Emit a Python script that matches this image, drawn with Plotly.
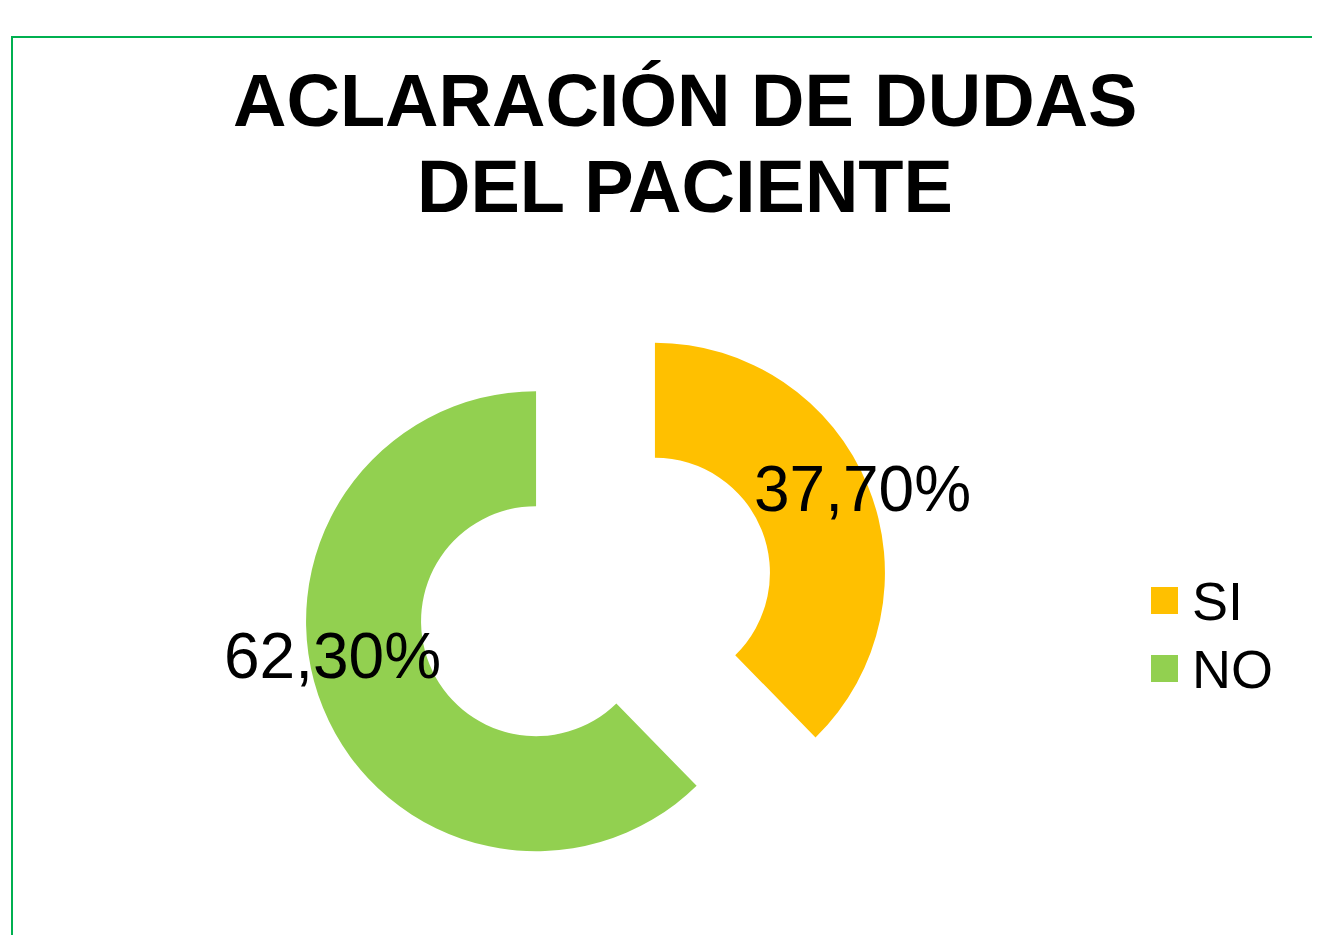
import plotly.graph_objects as go

# page has an 8px body margin, so the figure is shifted by that much
OFF = 8
W, H = 1312, 927

labels = ["SI", "NO"]
values = [37.7, 62.3]
colors = ["#FFC000", "#92D050"]
title_lines = ["ACLARACIÓN DE DUDAS", "DEL PACIENTE"]


def px(x):
    return (x - OFF) / W


def py(y):
    return 1 - (y - OFF) / H


def pct(v):
    return f"{v:.2f}%".replace(".", ",")


# donut centre / size in screen pixels
cx, cy, r_out, pull = 595.5, 597, 230, 0.279
half = r_out * (1 + pull)

fig = go.Figure()

fig.add_trace(
    go.Pie(
        labels=labels,
        values=values,
        marker=dict(colors=colors, line=dict(width=0)),
        hole=0.5,
        pull=[pull, pull],
        sort=False,
        direction="clockwise",
        rotation=0,
        textinfo="none",
        hoverinfo="label+percent",
        showlegend=False,
        domain=dict(x=[px(cx - half), px(cx + half)], y=[py(cy + half), py(cy - half)]),
    )
)

annotations = []
# title, two lines
for text, tx, ty in zip(title_lines, [685, 684.5], [100.5, 186.5]):
    annotations.append(
        dict(
            x=px(tx), y=py(ty), xref="paper", yref="paper",
            text=f"<b>{text}</b>", showarrow=False,
            xanchor="center", yanchor="middle",
            font=dict(family="Liberation Sans, Arial", size=74, color="#000000"),
        )
    )

# data labels
for v, tx, ty in zip(values, [862.5, 332.5], [489, 656]):
    annotations.append(
        dict(
            x=px(tx), y=py(ty), xref="paper", yref="paper",
            text=pct(v), showarrow=False,
            xanchor="center", yanchor="middle",
            font=dict(family="Liberation Sans, Arial", size=64, color="#000000"),
        )
    )

# legend
shapes = []
for i, (lab, col) in enumerate(zip(labels, colors)):
    y0 = 587 + i * 68
    shapes.append(
        dict(
            type="rect", xref="paper", yref="paper",
            x0=px(1151), x1=px(1178), y0=py(y0 + 27), y1=py(y0),
            fillcolor=col, line=dict(width=0),
        )
    )
    annotations.append(
        dict(
            x=px(1190), y=py(y0 + 13.5), xref="paper", yref="paper",
            text=lab, showarrow=False,
            xanchor="left", yanchor="middle",
            font=dict(family="Liberation Sans, Arial", size=54, color="#000000"),
        )
    )

# chart area border (cropped)
shapes.append(
    dict(
        type="rect", xref="paper", yref="paper",
        x0=px(12), x1=1.2, y0=-0.2, y1=py(37),
        line=dict(color="#00B050", width=2), fillcolor="rgba(0,0,0,0)",
    )
)

fig.update_layout(
    width=W,
    height=H,
    margin=dict(l=0, r=0, t=0, b=0),
    paper_bgcolor="white",
    plot_bgcolor="white",
    annotations=annotations,
    shapes=shapes,
    showlegend=False,
)

fig.write_html("out.html")
